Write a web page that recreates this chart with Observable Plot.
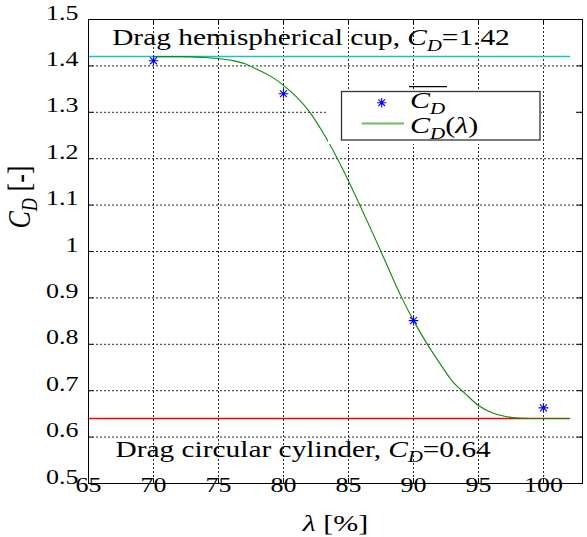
<!DOCTYPE html>
<html><head><meta charset="utf-8">
<script src="https://cdn.jsdelivr.net/npm/d3@7"></script>
<script src="https://cdn.jsdelivr.net/npm/@observablehq/plot@0.6"></script>
<style>
body{margin:0;background:#fff;font-family:"Liberation Serif","Times New Roman","DejaVu Serif",serif;}
#wrap{position:relative;width:587px;height:537px;overflow:hidden;background:#fff}
#wrap svg, #wrap svg text{font-family:"Liberation Serif","Times New Roman","DejaVu Serif",serif !important}
#wrap svg.overlay{position:absolute;left:0;top:0;overflow:visible;pointer-events:none}
</style></head><body><div id="wrap"></div>
<script>
// ---- data ----
const xTicks = [65, 70, 75, 80, 85, 90, 95, 100];
const xTickLabels = ["65", "70", "75", "80", "85", "90", "95", "100"];
const yTicks = [0.5, 0.6, 0.7, 0.8, 0.9, 1.0, 1.1, 1.2, 1.3, 1.4, 1.5];
const yTickLabels = ["0.5", "0.6", "0.7", "0.8", "0.9", "1", "1.1", "1.2", "1.3", "1.4", "1.5"];
const measLambda = [70, 80, 90, 100];
const measCD = [1.411, 1.340, 0.851, 0.663];
const curveLambda = [70, 72, 74, 75, 76, 77, 78, 79, 80, 81, 82, 83, 84, 85, 86, 87, 88, 89, 90, 91, 92, 93, 94, 95, 96, 97, 98, 99, 100, 101, 102];
const curveCD = [1.420, 1.420, 1.418, 1.416, 1.412, 1.405, 1.392, 1.378, 1.358, 1.333, 1.301, 1.258, 1.208, 1.152, 1.092, 1.031, 0.968, 0.906, 0.851, 0.803, 0.760, 0.720, 0.693, 0.668, 0.653, 0.645, 0.641, 0.640, 0.640, 0.640, 0.640];
const cupCD = 1.42;
const cylCD = 0.64;
const refLambda = [65, 102];
const annotTexts = ["Drag hemispherical cup, $C_D$=1.42", "Drag circular cylinder, $C_D$=0.64"];
const annotLambda = [66.82, 67.08];
const annotCD = [1.444, 0.558];
const xLabel = "$λ$ [%]";
const yLabel = "$C_D$ [-]";
const legendLabels = ["$C_D$", "$C_D(λ)$"];

// ---- helpers ----
const NS = "http://www.w3.org/2000/svg";
const FONT = "'Liberation Serif','Times New Roman','DejaVu Serif',serif";
const SX = 1.25; // horizontal glyph stretch of the original rendering
const SX_TICK = 1.18;
function setRich(t, src, fs) {
  while (t.firstChild) t.removeChild(t.firstChild);
  let pending = 0;
  const add = (str, italic, sub) => {
    const ts = document.createElementNS(NS, "tspan");
    ts.textContent = str;
    if (italic) ts.setAttribute("font-style", "italic");
    let dy = pending;
    if (sub) { ts.setAttribute("font-size", fs * 0.7); dy += fs * 0.24; pending = -fs * 0.24; } else pending = 0;
    if (dy) ts.setAttribute("dy", dy);
    t.appendChild(ts);
  };
  src.split("$").forEach((p, k) => {
    if (k % 2 === 0) { if (p) add(p, false, false); return; }
    for (let j = 0; j < p.length; j++) {
      const c = p[j];
      if (c === "_") add(p[++j], true, true);
      else add(c, /[A-Za-zλ]/.test(c), false);
    }
  });
}
function stretch(t, s) {
  let tr = t.getAttribute("transform") || "";
  const x = t.getAttribute("x"), y = t.getAttribute("y");
  if (x !== null || y !== null) { tr += ` translate(${+x || 0},${+y || 0})`; t.removeAttribute("x"); t.removeAttribute("y"); }
  if (/rotate/.test(tr)) tr = tr.replace(/rotate/, `scale(${s},1) rotate`);
  else tr += ` scale(${s},1)`;
  t.setAttribute("transform", tr.trim());
}
const asterisk = {
  draw(ctx, size) {
    const r = Math.sqrt(size / Math.PI), d = r * 0.72;
    ctx.moveTo(-r, 0); ctx.lineTo(r, 0); ctx.moveTo(0, -r); ctx.lineTo(0, r);
    ctx.moveTo(-d, -d); ctx.lineTo(d, d); ctx.moveTo(-d, d); ctx.lineTo(d, -d);
  }
};

// ---- tables ----
const meas = measLambda.map((x, i) => ({x, y: measCD[i]}));
const curve = curveLambda.map((x, i) => ({x, y: curveCD[i]}));
const cupLine = refLambda.map(x => ({x, y: cupCD}));
const cylLine = refLambda.map(x => ({x, y: cylCD}));
const annots = annotTexts.map((t, i) => ({x: annotLambda[i], y: annotCD[i], t}));

const W = 587, H = 537, mL = 88, mR = 5, mT = 19, mB = 54;
const fw = W - mL - mR, fh = H - mT - mB, tick = 5;
const grid = {stroke: "#000", strokeOpacity: 0.85, strokeDasharray: "2,2"};

const chart = Plot.plot({
  width: W, height: H,
  marginLeft: mL, marginRight: mR, marginTop: mT, marginBottom: mB,
  style: {fontSize: "22px", fontFamily: FONT, background: "white", color: "#000"},
  x: {domain: [65, 103], ticks: xTicks, tickFormat: d => xTickLabels[xTicks.indexOf(d)], tickSize: 0, tickPadding: 8, label: null},
  y: {domain: [0.5, 1.5], ticks: yTicks, tickFormat: d => yTickLabels[yTicks.findIndex(v => Math.abs(v - d) < 1e-9)], tickSize: 0, tickPadding: 10, label: null},
  marks: [
    Plot.ruleX(xTicks, grid),
    Plot.ruleY(yTicks, grid),
    Plot.ruleX(xTicks, {stroke: "#000", insetTop: fh - tick}),
    Plot.ruleX(xTicks, {stroke: "#000", insetBottom: fh - tick}),
    Plot.ruleY(yTicks, {stroke: "#000", insetRight: fw - tick}),
    Plot.ruleY(yTicks, {stroke: "#000", insetLeft: fw - tick}),
    Plot.line(cupLine, {x: "x", y: "y", stroke: "#17c4c4", strokeWidth: 1.5}),
    Plot.line(cylLine, {x: "x", y: "y", stroke: "#ff0000", strokeWidth: 1.5}),
    Plot.line(curve, {x: "x", y: "y", stroke: "#0a8a0a", strokeWidth: 1.1, curve: "monotone-x"}),
    Plot.dot(meas, {x: "x", y: "y", symbol: asterisk, r: 4.8, stroke: "#0000ff", fill: "none", strokeWidth: 1.1}),
    Plot.text(annots, {x: "x", y: "y", text: "t", textAnchor: "start", lineAnchor: "bottom", fontSize: 23.5}),
    Plot.text([xLabel], {frameAnchor: "bottom", dy: 47, lineAnchor: "bottom", fontSize: 24, text: d => d}),
    Plot.text([yLabel], {frameAnchor: "left", dx: -59, dy: -23, rotate: -90, lineAnchor: "middle", fontSize: 26, text: d => d}),
    Plot.frame({stroke: "#000", strokeWidth: 1})
  ]
});
const wrap = document.getElementById("wrap");
wrap.appendChild(chart);
chart.setAttribute("font-family", FONT);

// rich text for annotation & labels (matched by their content)
const richSizes = new Map([[annotTexts[0], 23.5], [annotTexts[1], 23.5], [xLabel, 24], [yLabel, 26]]);
const tickSet = new Set([...xTickLabels, ...yTickLabels]);
chart.querySelectorAll("text").forEach(t => {
  const s = t.textContent;
  if (richSizes.has(s)) setRich(t, s, richSizes.get(s));
  t.setAttribute("font-family", FONT);
  stretch(t, tickSet.has(s) ? SX_TICK : SX);
});

// ---- legend overlay ----
const ov = document.createElementNS(NS, "svg");
ov.setAttribute("class", "overlay");
ov.setAttribute("width", W); ov.setAttribute("height", H);
function el(name, attrs, parent = ov) {
  const e = document.createElementNS(NS, name);
  for (const k in attrs) e.setAttribute(k, attrs[k]);
  parent.appendChild(e); return e;
}
// white background of the legend (covers the grid)
el("rect", {x: 328, y: 91, width: 213, height: 53, fill: "#fff"});
el("rect", {x: 544, y: 91, width: 31, height: 53, fill: "#fff"});
el("rect", {x: 341.5, y: 91.5, width: 198.5, height: 48.5, fill: "#fff", stroke: "#333", "stroke-width": 1.3});
const sym = d3.symbol(asterisk, Math.PI * 4.6 * 4.6)();
el("path", {d: sym, transform: "translate(381.7,102.7)", stroke: "#0000ff", fill: "none", "stroke-width": 1.1});
el("line", {x1: 361.7, x2: 404, y1: 123.5, y2: 123.5, stroke: "#0a8a0a", "stroke-opacity": 0.6, "stroke-width": 2});
const lt1 = el("text", {transform: "translate(410,108)", "font-size": 24, "font-family": FONT});
setRich(lt1, legendLabels[0], 24); stretch(lt1, SX);
el("line", {x1: 409, x2: 447, y1: 86.7, y2: 86.7, stroke: "#000", "stroke-width": 1.2});
const lt2 = el("text", {transform: "translate(410,133)", "font-size": 24, "font-family": FONT});
setRich(lt2, legendLabels[1], 24); stretch(lt2, SX);
wrap.appendChild(ov);
</script></body></html>
